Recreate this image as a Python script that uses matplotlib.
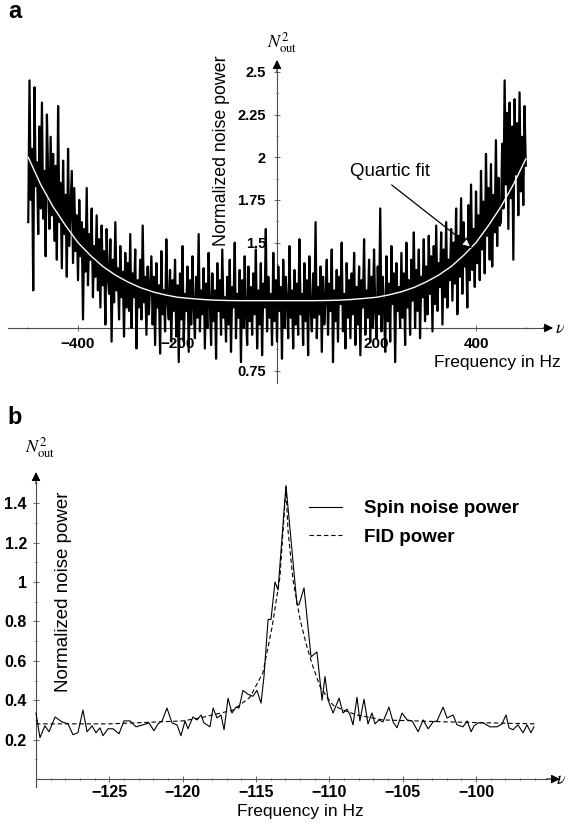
import numpy as np
import matplotlib
matplotlib.use("Agg")
import matplotlib.pyplot as plt

plt.rcParams['font.family'] = ['Liberation Sans', 'DejaVu Sans']
plt.rcParams['mathtext.fontset'] = 'stix'

W, H = 569, 830

# ---- panel a: noise power spectrum, 2.5 Hz sampling from -500 to 500 Hz
noise_hz = np.linspace(-500, 500, 401)
noise_pow = [
    1.62, 2.45, 1.75, 2.05, 1.22, 2.41, 1.83, 1.97, 1.55, 2.18, 1.70, 2.32, 1.64, 1.92, 1.42, 2.25, 1.88, 1.58, 2.12, 1.66,
    2.02, 1.51, 1.95, 1.40, 2.30, 1.62, 1.85, 1.35, 1.98, 1.55, 1.78, 1.30, 2.05, 1.48, 1.70, 1.92, 1.38, 1.82, 1.45, 1.66,
    1.28, 1.75, 1.42, 1.62, 1.05, 1.58, 1.33, 1.82, 1.25, 1.55, 1.40, 1.70, 1.18, 1.48, 1.30, 1.66, 1.22, 1.52, 1.12, 1.60,
    1.25, 1.45, 1.02, 1.58, 1.30, 1.20, 1.52, 0.92, 1.40, 1.15, 1.62, 1.22, 1.35, 1.05, 1.48, 1.18, 1.33, 0.95, 1.44, 1.12,
    1.38, 1.10, 1.55, 1.00, 1.32, 1.18, 1.46, 0.88, 1.28, 1.12, 1.40, 1.05, 1.60, 1.15, 1.30, 0.96, 1.36, 1.08, 1.25, 1.42,
    1.02, 1.30, 0.90, 1.38, 1.12, 1.25, 0.85, 1.45, 1.08, 1.22, 0.98, 1.52, 1.15, 1.05, 1.34, 0.92, 1.28, 1.10, 1.40, 0.95,
    1.25, 0.80, 1.32, 1.05, 1.48, 0.92, 1.20, 1.10, 1.36, 0.86, 1.28, 1.02, 1.42, 1.12, 0.94, 1.30, 1.06, 1.55, 0.98, 1.22,
    1.08, 1.35, 0.88, 1.26, 1.00, 1.44, 1.14, 0.90, 1.32, 1.04, 1.22, 0.82, 1.38, 1.10, 1.28, 0.96, 1.46, 1.06, 1.18, 0.92,
    1.30, 1.02, 1.40, 0.86, 1.24, 1.12, 1.50, 0.94, 1.20, 1.06, 1.34, 0.80, 1.28, 1.00, 1.42, 1.10, 0.90, 1.36, 1.04, 1.24,
    0.96, 1.32, 1.08, 1.46, 0.88, 1.22, 1.02, 1.38, 0.84, 1.26, 1.12, 1.58, 0.98, 1.30, 1.06, 1.20, 0.90, 1.44, 1.04, 1.28,
    0.92, 1.36, 1.10, 1.24, 0.82, 1.40, 1.00, 1.30, 1.14, 0.94, 1.48, 1.06, 1.22, 0.88, 1.34, 1.02, 1.26, 0.96, 1.52, 1.08,
    1.20, 0.90, 1.38, 1.04, 1.28, 0.84, 1.42, 1.12, 0.98, 1.32, 1.06, 1.62, 0.94, 1.24, 1.08, 1.36, 0.86, 1.30, 1.02, 1.18,
    1.40, 0.96, 1.26, 1.10, 1.46, 0.80, 1.22, 1.04, 1.34, 0.92, 1.30, 1.14, 1.50, 0.98, 1.20, 0.88, 1.38, 1.06, 1.28, 0.94,
    1.32, 1.08, 1.44, 0.90, 1.24, 1.02, 1.36, 0.84, 1.28, 1.12, 1.52, 0.96, 1.22, 1.06, 1.40, 0.92, 1.30, 1.00, 1.46, 1.10,
    0.94, 1.36, 1.08, 1.70, 0.98, 1.30, 1.12, 0.86, 1.42, 1.04, 1.26, 0.92, 1.48, 1.14, 1.32, 0.80, 1.38, 1.10, 1.24, 1.00,
    1.44, 1.06, 1.32, 0.90, 1.50, 1.12, 1.28, 0.96, 1.40, 1.16, 1.56, 1.00, 1.34, 1.10, 1.46, 0.94, 1.30, 1.18, 1.52, 1.04,
    1.36, 1.08, 1.54, 1.20, 1.42, 0.98, 1.48, 1.14, 1.60, 1.10, 1.38, 1.24, 1.56, 1.02, 1.46, 1.18, 1.62, 1.12, 1.40, 1.28,
    1.58, 1.16, 1.50, 1.26, 1.70, 1.08, 1.54, 1.30, 1.76, 1.20, 1.62, 1.36, 1.48, 1.12, 1.72, 1.28, 1.84, 1.34, 1.58, 1.24,
    1.80, 1.38, 1.66, 1.28, 1.92, 1.46, 1.74, 1.32, 2.02, 1.54, 1.82, 1.40, 1.96, 1.36, 1.78, 1.56, 2.10, 1.48, 1.88, 1.60,
    1.62, 2.08, 1.70, 2.45, 1.84, 2.26, 1.58, 2.32, 1.76, 2.18, 1.40, 2.34, 1.90, 2.20, 1.66, 2.38, 1.80, 2.12, 1.72, 2.30,
    1.95,
]

fit_hz = [-500, -475, -450, -425, -400, -375, -350, -325, -300, -275, -250, -225, -200, -175, -150, -125, -100,
          -75, -50, -25, 0, 25, 50, 75, 100, 125, 150, 175, 200, 225, 250, 275, 300, 325, 350, 375, 400, 425,
          450, 475, 500]
fit_pow = [2.00, 1.84, 1.71, 1.60, 1.50, 1.425, 1.36, 1.31, 1.27, 1.237, 1.212, 1.194, 1.18, 1.173, 1.167, 1.163,
           1.161, 1.16, 1.16, 1.16, 1.16, 1.16, 1.16, 1.16, 1.161, 1.163, 1.167, 1.173, 1.18, 1.194, 1.212, 1.237,
           1.27, 1.31, 1.36, 1.425, 1.50, 1.60, 1.71, 1.84, 1.99]

a_xticks = [-400, -200, 200, 400]
a_xlabels = ['\u2212400', '\u2212200', '200', '400']
a_yticks = [0.75, 1.5, 1.75, 2, 2.25, 2.5]
a_ylabels = ['0.75', '1.5', '1.75', '2', '2.25', '2.5']

# ---- panel b: spin noise vs FID power
spin_hz = [-130.0, -129.73, -129.39, -129.11, -128.70, -128.23, -127.82, -127.48, -127.14, -126.80, -126.52,
           -126.18, -125.91, -125.64, -125.43, -125.09, -124.75, -124.34, -124.00, -123.59, -123.18, -122.71,
           -122.30, -121.96, -121.68, -121.41, -121.07, -120.73, -120.39, -120.12, -119.84, -119.64, -119.30,
           -119.03, -118.75, -118.55, -118.14, -117.93, -117.66, -117.39, -117.18, -116.91, -116.64, -116.36,
           -116.16, -115.89, -115.55, -115.21, -114.94, -114.66, -114.46, -114.18, -113.98, -113.71, -113.50,
           -112.96, -112.21, -112.07, -111.73, -111.25, -110.85, -110.50, -110.30, -110.09, -109.75, -109.34,
           -109.07, -108.80, -108.59, -108.39, -108.12, -107.92, -107.64, -107.37, -107.10, -106.89, -106.62,
           -106.35, -105.94, -105.66, -105.39, -105.05, -104.70, -104.36, -103.95, -103.61, -103.27, -102.93,
           -102.66, -102.25, -101.98, -101.57, -101.30, -100.89, -100.61, -100.34, -100.14, -99.86, -99.52,
           -99.05, -98.57, -98.23, -97.96, -97.76, -97.49, -97.15, -96.80, -96.53, -96.26, -96.06]
spin_pow = [0.335, 0.21, 0.27, 0.24, 0.315, 0.29, 0.28, 0.225, 0.235, 0.35, 0.24,
            0.27, 0.235, 0.26, 0.22, 0.255, 0.255, 0.23, 0.295, 0.295, 0.265, 0.275,
            0.285, 0.245, 0.28, 0.295, 0.36, 0.285, 0.275, 0.22, 0.295, 0.255, 0.315,
            0.30, 0.325, 0.285, 0.265, 0.36, 0.31, 0.325, 0.25, 0.41, 0.335, 0.365,
            0.36, 0.45, 0.43, 0.42, 0.45, 0.385, 0.52, 0.81, 0.81, 1.00, 0.96,
            1.49, 0.885, 0.885, 0.97, 0.62, 0.645, 0.40, 0.52, 0.40, 0.335, 0.41,
            0.335, 0.355, 0.325, 0.275, 0.415, 0.295, 0.405, 0.28, 0.335, 0.28, 0.30,
            0.29, 0.365, 0.29, 0.26, 0.335, 0.30, 0.295, 0.24, 0.30, 0.255, 0.29,
            0.295, 0.365, 0.31, 0.325, 0.275, 0.265, 0.295, 0.24, 0.27, 0.285, 0.285,
            0.265, 0.265, 0.28, 0.325, 0.26, 0.25, 0.275, 0.235, 0.275, 0.235, 0.265]

fid_hz = [-130.0, -125.0, -120.0, -118.82, -116.57, -115.41, -114.53, -113.91, -113.37, -112.96,
          -112.82, -112.48, -112.0, -111.53, -111.12, -110.64, -110.16, -109.75, -109.07, -108.12,
          -106.35, -102.0, -96.0]
fid_pow = [0.28, 0.28, 0.295, 0.31, 0.35, 0.415, 0.54, 0.77, 1.025, 1.48,
           1.26, 1.01, 0.81, 0.67, 0.57, 0.47, 0.415, 0.375, 0.35, 0.325,
           0.30, 0.29, 0.28]

b_xticks = [-125, -120, -115, -110, -105, -100]
b_xlabels = ['\u2212125', '\u2212120', '\u2212115', '\u2212110', '\u2212105', '\u2212100']
b_yticks = [0.2, 0.4, 0.6, 0.8, 1.0, 1.2, 1.4]
b_ylabels = ['0.2', '0.4', '0.6', '0.8', '1', '1.2', '1.4']

AX = '0.3'


def ftext(px, py, s, **kw):
    fig.text(px / W, 1 - py / H, s, **kw)


def style_axes(ax, x0, y0, xb, yb, xtip, ytip):
    for side in ['top', 'right']:
        ax.spines[side].set_visible(False)
    ax.spines['left'].set_position(('data', x0))
    ax.spines['bottom'].set_position(('data', y0))
    ax.spines['left'].set_bounds(*yb)
    ax.spines['bottom'].set_bounds(*xb)
    for side in ['left', 'bottom']:
        ax.spines[side].set_color(AX)
        ax.spines[side].set_linewidth(0.8)
    ax.tick_params(which='both', direction='inout', color=AX, width=0.6)
    ax.tick_params(which='major', length=4)
    ax.tick_params(which='minor', length=2)
    arrow = dict(arrowstyle='-|>', color='k', lw=0.8, mutation_scale=13, shrinkA=0, shrinkB=0)
    ax.annotate('', xy=(xtip, y0), xytext=(xb[1], y0), arrowprops=arrow, annotation_clip=False)
    ax.annotate('', xy=(x0, ytip), xytext=(x0, yb[1]), arrowprops=arrow, annotation_clip=False)
    for lbl in ax.get_xticklabels() + ax.get_yticklabels():
        lbl.set_fontweight('bold')


fig = plt.figure(figsize=(W / 100, H / 100), dpi=100)

# panel a
ax = fig.add_axes([10 / W, 1 - 385 / H, 550 / W, 330 / H])
ax.set_xlim(-536.7, 568.8)
ax.set_ylim(0.666, 2.599)
ax.plot(noise_hz, noise_pow, color='k', lw=1.6, zorder=3)
ax.plot(fit_hz, fit_pow, color='white', lw=1.0, zorder=4)
ax.set_xticks(a_xticks, a_xlabels)
ax.set_yticks(a_yticks, a_ylabels)
ax.set_xticks([-500, -300, -100, 100, 300, 500], minor=True)
ax.set_yticks([0.875, 1.125, 1.25, 1.375, 1.625, 1.875, 2.125, 2.375], minor=True)
ax.tick_params(axis='x', labelsize=11, pad=4.5)
ax.tick_params(axis='y', labelsize=10.5, pad=6)
style_axes(ax, 0, 1, (-540, 535), (0.68, 2.5), 555, 2.57)
ax.annotate('Quartic fit', xy=(392, 1.469), xytext=(227, 1.914), fontsize=13.5,
            ha='center', va='center', zorder=5,
            arrowprops=dict(arrowstyle='-|>', fc='white', ec='black', lw=0.9,
                            mutation_scale=16, shrinkA=2, shrinkB=0, relpos=(0.45, 0)))
ax.text(-112, 2.04, 'Normalized noise power', rotation=90, fontsize=12.8,
        ha='center', va='center', zorder=5)
ftext(497, 362, 'Frequency in Hz', fontsize=12.5, ha='center', va='center')
ftext(282, 43, r'$N_{\rm out}^{2}$', fontsize=13, ha='center', va='center')
ftext(560, 328, r'$\nu$', fontsize=13, ha='center', va='center')
ftext(15, 12, 'a', fontsize=17, fontweight='bold', ha='center', va='center')

# panel b
bx = fig.add_axes([20 / W, 1 - 795 / H, 545 / W, 335 / H])
bx.set_xlim(-131.09, -93.94)
bx.set_ylim(-0.081, 1.619)
l_spin, = bx.plot(spin_hz, spin_pow, color='k', lw=0.8, zorder=3)
l_fid, = bx.plot(fid_hz, fid_pow, color='k', lw=0.8, ls=(0, (4, 2.5)), zorder=3)
bx.set_xticks(b_xticks, b_xlabels)
bx.set_yticks(b_yticks, b_ylabels)
bx.set_xticks(np.arange(-129, -95, 1), minor=True)
bx.set_yticks(np.arange(0.1, 1.55, 0.1), minor=True)
bx.tick_params(axis='x', labelsize=11.5, pad=2.5)
bx.tick_params(axis='y', labelsize=11.5, pad=4.5)
style_axes(bx, -130, 0, (-130, -95.2), (-0.04, 1.5), -94.28, 1.558)
bx.legend([l_spin, l_fid], ['Spin noise power', 'FID power'], loc='upper left',
          bbox_to_anchor=(309 / W, 1 - 500 / H), bbox_transform=fig.transFigure,
          frameon=False, handlelength=1.76, handletextpad=1.17, labelspacing=0.6,
          borderpad=0, borderaxespad=0, prop={'weight': 'bold', 'size': 13.5})
ftext(63, 592, 'Normalized noise power', rotation=90, fontsize=13.5, ha='center', va='center')
ftext(300, 811, 'Frequency in Hz', fontsize=12.5, ha='center', va='center')
ftext(40, 448, r'$N_{\rm out}^{2}$', fontsize=13, ha='center', va='center')
ftext(561, 779, r'$\nu$', fontsize=13, ha='center', va='center')
ftext(15, 417, 'b', fontsize=17, fontweight='bold', ha='center', va='center')

fig.savefig('out.png', dpi=100)
